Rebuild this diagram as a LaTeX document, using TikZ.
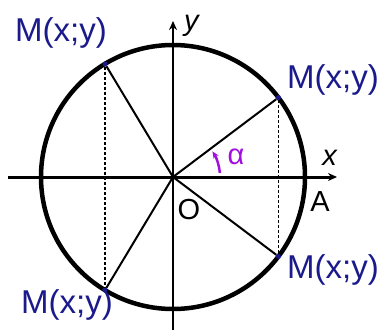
\documentclass[tikz,border=0pt]{standalone}
\usepackage{fontspec}
\setmainfont{Liberation Sans}
\usetikzlibrary{arrows.meta}
\definecolor{pointblue}{HTML}{1A1A8C}
\definecolor{anglepurple}{HTML}{A010E0}

\begin{document}
\begin{tikzpicture}[x=1pt,y=1pt,
  axis/.style={line width=3pt,-{Stealth[length=9pt,width=8pt]}},
  ray/.style={line width=2pt},
  proj/.style={line width=1.5pt,dash pattern=on 3pt off 2pt},
  dot/.style={circle,fill=pointblue,inner sep=0pt,minimum size=5pt},
  mlabel/.style={text=pointblue,font=\fontsize{33}{33}\selectfont,inner sep=0pt},
  axlabel/.style={font=\fontsize{29}{29}\selectfont,inner sep=0pt}]
\useasboundingbox (0,0) rectangle (382,330);
\coordinate (O) at (173,153);
% unit circle
\draw[line width=4.5pt] (O) circle (132);
% axes
\coordinate (xl) at (8,153);
\coordinate (xr) at (337,153);
\coordinate (yb) at (173,0);
\coordinate (yt) at (173,309);
\draw[axis] (xl) -- (xr);
\draw[axis,line width=2.5pt] (yb) -- (yt);
% points on the circle
\path (O) ++(37:132) node[dot] (M1) {};
\path (O) ++(121:132) node[dot] (M2) {};
\path (O) ++(-121:132) node[dot] (M3) {};
\path (O) ++(-37:132) node[dot] (M4) {};
\foreach \m in {M1,M2,M3,M4}
  \draw[ray] (O) -- (\m);
\draw[proj] (M1) -- (M4);
\draw[proj] (M2) -- (M3);
% labels
\node[mlabel] (L1) at (333,250) {M(x;y)};
\node[mlabel] (L2) at (61,297) {M(x;y)};
\node[mlabel] (L3) at (67,25) {M(x;y)};
\node[mlabel] (L4) at (333,60) {M(x;y)};
\node[axlabel] (ylab) at (192,304) {\textit{y}};
\node[axlabel] (xlab) at (330,172) {\textit{x}};
\node[axlabel] (Alab) at (320,128) {A};
\node[axlabel] (Olab) at (189,120) {O};
% angle
\draw[anglepurple,line width=2.5pt,-{Stealth[length=7pt,width=6pt]}] (O) ++(5:47) arc (5:33:47);
\node[axlabel,text=anglepurple] (alpha) at (236,173) {α};
\end{tikzpicture}
\end{document}
